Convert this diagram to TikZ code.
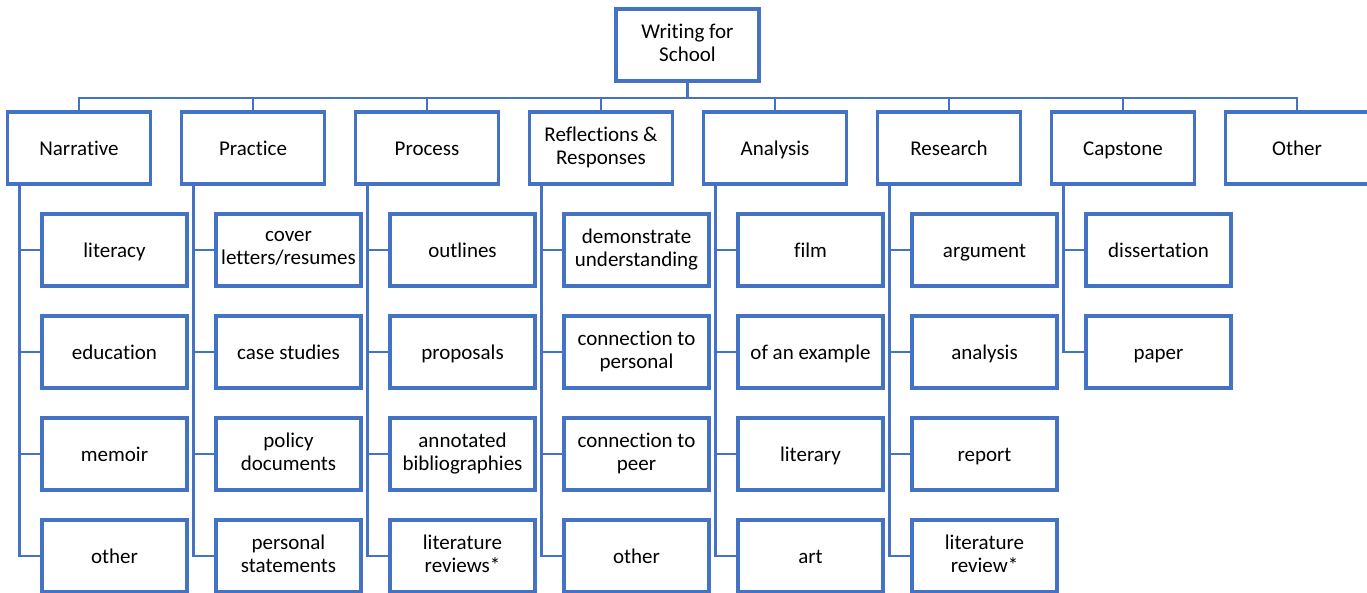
\documentclass[tikz,border=0pt]{standalone}
\usepackage{fontspec}
\setmainfont{Carlito}[Ligatures=NoCommon]
\definecolor{boxblue}{RGB}{68,114,196}
\newcommand{\boxstrut}{\rule[-4pt]{0pt}{23pt}}

\begin{document}
\begin{tikzpicture}[x=1pt,y=-1pt,
  box/.style={draw=boxblue, line width=3.5pt, fill=white, align=center, inner sep=0pt,
    minimum width=143pt, minimum height=72pt, font=\fontsize{21}{23}\selectfont,
    execute at begin node=\boxstrut, execute at end node=\boxstrut},
  sub/.style={box, minimum width=145pt},
  link/.style={draw=boxblue, line width=2.5pt}]
\useasboundingbox (0,0) rectangle (1367,593);
% top
\node[box] (wfs) at (687.5,45) {Writing for\\School};
% genres
\node[box] (nar) at (79,148) {Narrative};
\node[box] (pra) at (253,148) {Practice};
\node[box] (pro) at (427,148) {Process};
\node[box] (ref) at (601,148) {Reflections \&\\Responses};
\node[box] (ana) at (775,148) {Analysis};
\node[box] (res) at (949,148) {Research};
\node[box] (cap) at (1123,148) {Capstone};
\node[box] (oth) at (1297,148) {Other};
\coordinate (bus) at (687.5,98);
\draw[link] (wfs.south) -- (bus);
\draw[link] (nar.north) |- (bus);
\draw[link] (pra.north) |- (bus);
\draw[link] (pro.north) |- (bus);
\draw[link] (ref.north) |- (bus);
\draw[link] (ana.north) |- (bus);
\draw[link] (res.north) |- (bus);
\draw[link] (cap.north) |- (bus);
\draw[link] (oth.north) |- (bus);
% narrative
\node[sub] (nar1) at (114.5,250) {literacy};
\node[sub] (nar2) at (114.5,352) {education};
\node[sub] (nar3) at (114.5,454) {memoir};
\node[sub] (nar4) at (114.5,556) {other};
% practice
\node[sub] (pra1) at (288.5,250) {cover\\letters/resumes};
\node[sub] (pra2) at (288.5,352) {case studies};
\node[sub] (pra3) at (288.5,454) {policy\\documents};
\node[sub] (pra4) at (288.5,556) {personal\\statements};
% process
\node[sub] (pro1) at (462.5,250) {outlines};
\node[sub] (pro2) at (462.5,352) {proposals};
\node[sub] (pro3) at (462.5,454) {annotated\\bibliographies};
\node[sub] (pro4) at (462.5,556) {literature\\reviews*};
% reflections
\node[sub] (ref1) at (636.5,250) {demonstrate\\understanding};
\node[sub] (ref2) at (636.5,352) {connection to\\personal};
\node[sub] (ref3) at (636.5,454) {connection to\\peer};
\node[sub] (ref4) at (636.5,556) {other};
% analysis
\node[sub] (ana1) at (810.5,250) {film};
\node[sub] (ana2) at (810.5,352) {of an example};
\node[sub] (ana3) at (810.5,454) {literary};
\node[sub] (ana4) at (810.5,556) {art};
% research
\node[sub] (res1) at (984.5,250) {argument};
\node[sub] (res2) at (984.5,352) {analysis};
\node[sub] (res3) at (984.5,454) {report};
\node[sub] (res4) at (984.5,556) {literature\\review*};
% capstone
\node[sub] (cap1) at (1158.5,250) {dissertation};
\node[sub] (cap2) at (1158.5,352) {paper};
% links to subtypes
\draw[link] ([xshift=13.5pt]nar.south west) |- (nar1.west);
\draw[link] ([xshift=13.5pt]nar.south west) |- (nar2.west);
\draw[link] ([xshift=13.5pt]nar.south west) |- (nar3.west);
\draw[link] ([xshift=13.5pt]nar.south west) |- (nar4.west);
\draw[link] ([xshift=13.5pt]pra.south west) |- (pra1.west);
\draw[link] ([xshift=13.5pt]pra.south west) |- (pra2.west);
\draw[link] ([xshift=13.5pt]pra.south west) |- (pra3.west);
\draw[link] ([xshift=13.5pt]pra.south west) |- (pra4.west);
\draw[link] ([xshift=13.5pt]pro.south west) |- (pro1.west);
\draw[link] ([xshift=13.5pt]pro.south west) |- (pro2.west);
\draw[link] ([xshift=13.5pt]pro.south west) |- (pro3.west);
\draw[link] ([xshift=13.5pt]pro.south west) |- (pro4.west);
\draw[link] ([xshift=13.5pt]ref.south west) |- (ref1.west);
\draw[link] ([xshift=13.5pt]ref.south west) |- (ref2.west);
\draw[link] ([xshift=13.5pt]ref.south west) |- (ref3.west);
\draw[link] ([xshift=13.5pt]ref.south west) |- (ref4.west);
\draw[link] ([xshift=13.5pt]ana.south west) |- (ana1.west);
\draw[link] ([xshift=13.5pt]ana.south west) |- (ana2.west);
\draw[link] ([xshift=13.5pt]ana.south west) |- (ana3.west);
\draw[link] ([xshift=13.5pt]ana.south west) |- (ana4.west);
\draw[link] ([xshift=13.5pt]res.south west) |- (res1.west);
\draw[link] ([xshift=13.5pt]res.south west) |- (res2.west);
\draw[link] ([xshift=13.5pt]res.south west) |- (res3.west);
\draw[link] ([xshift=13.5pt]res.south west) |- (res4.west);
\draw[link] ([xshift=13.5pt]cap.south west) |- (cap1.west);
\draw[link] ([xshift=13.5pt]cap.south west) |- (cap2.west);
\end{tikzpicture}
\end{document}
